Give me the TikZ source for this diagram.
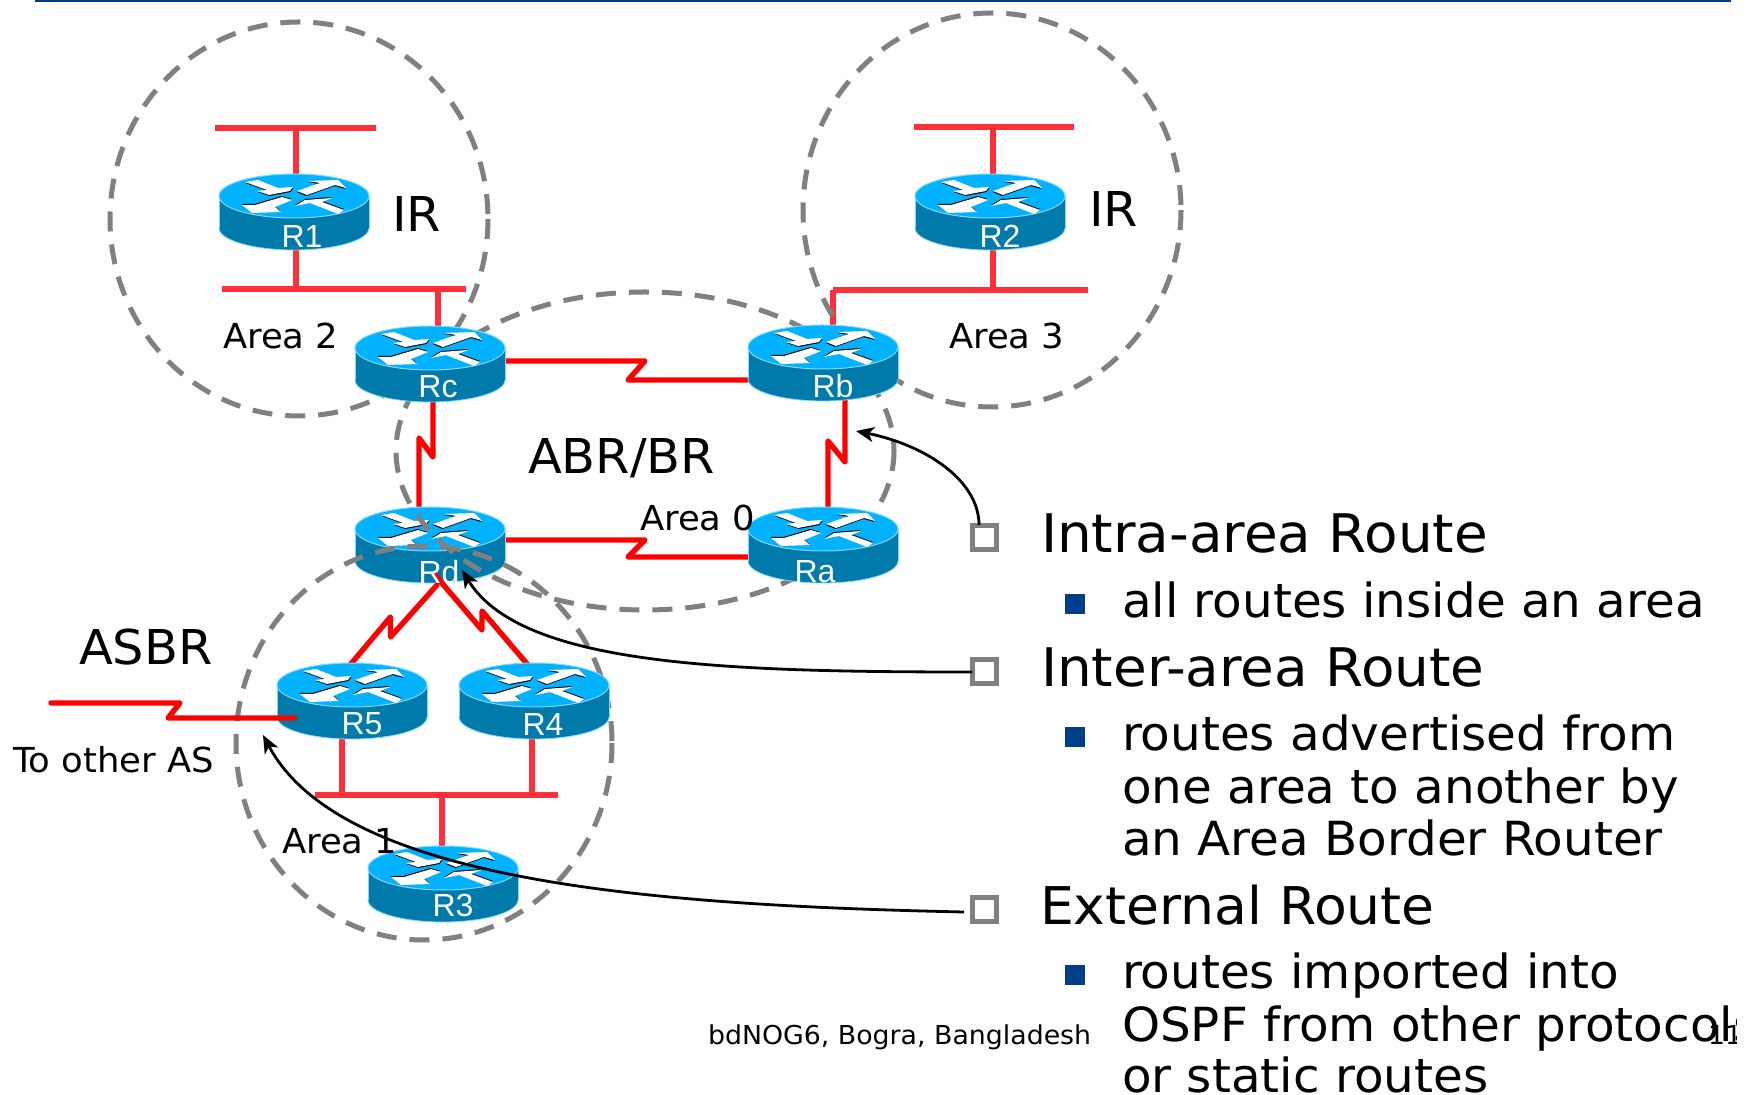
\documentclass[tikz,border=0pt]{standalone}
\usepackage{fontspec}
\setmainfont[FakeStretch=1.03]{DejaVu Sans}
\newfontfamily\rtrfont{Liberation Sans}
\usetikzlibrary{arrows.meta}
\definecolor{routertop}{HTML}{00B2FF}
\definecolor{routerside}{HTML}{0079AB}
\definecolor{routerrim}{HTML}{7FD8FF}
\definecolor{etherred}{HTML}{FF3039}
\definecolor{serialred}{HTML}{FF0000}
\definecolor{areagray}{HTML}{808080}
\definecolor{bulletblue}{HTML}{003F87}
\newcommand{\fs}[1]{\fontsize{#1}{#1}\selectfont}
\newcommand{\arw}[2]{%
  \fill[black,shift={(#1)}] #2 -- cycle;
  \fill[white] #2 -- cycle;
}
\tikzset{
  x=0.5pt,y=-0.5pt,
  area/.style={draw=areagray,line width=2.5pt,dash pattern=on 10pt off 6.5pt},
  ether/.style={draw=etherred,line width=3pt},
  serial/.style={draw=serialred,line width=2.7pt,line join=round,line cap=round},
  callout/.style={draw=black,line width=1.4pt,-{Stealth[length=9pt,width=7.5pt,inset=2.5pt]}},
  hollowsq/.style={draw=areagray,fill=white,line width=2.5pt,minimum size=12pt,inner sep=0pt,outer sep=0pt},
  txt/.style={inner sep=0pt,outer sep=0pt,anchor=base west,text=black},
  rtrlabel/.style={inner sep=0pt,text=white,font=\rtrfont\fs{16}},
  bigtxt/.style={txt,font=\fs{26}},
  bigwide/.style={txt,font=\fs{26.6}},
  subtxt/.style={txt,font=\fs{23.5}},
  lbl/.style={txt,font=\fs{24}},
  smlbl/.style={txt,font=\fs{17.2}},
  tinytxt/.style={txt,font=\fs{13}},
  blt/.style={fill=bulletblue,minimum size=10pt,inner sep=0pt,outer sep=0pt},
  router/.pic={
    \fill[routerside,draw=routerrim,line width=.4pt] (0,54) ellipse[x radius=75,y radius=22];
    \fill[routerside] (-75,22) rectangle (75,54);
    \draw[routerrim,line width=.4pt] (-75,22) -- (-75,54) (75,22) -- (75,54);
    \fill[routertop,draw=routerrim,line width=.5pt] (0,22) ellipse[x radius=75,y radius=22];
    \arw{0.5,1}{(-49,8) -- (-36,6) -- (-16,14) -- (-1,13) -- (-4,17) -- (-25,21) -- (-37,17) -- (-27,16)}
    \arw{-0.5,1}{(3,17) -- (26,9) -- (14,7) -- (44,6) -- (52,14) -- (41,11) -- (13,21)}
    \arw{-0.5,-1}{(-12,23) -- (-2,26) -- (-19,33) -- (-13,38) -- (-42,39) -- (-52,31) -- (-39,31)}
    \arw{0,-1}{(1,32) -- (11,26) -- (38,24) -- (28,28) -- (50,36) -- (44,40) -- (16,29)}
  }
}
\newcommand{\rtr}[3]{% name, center x, top y
  \pic at (#2,#3) {router};
  \coordinate (#1) at (#2,#3);
}
\begin{document}
\begin{tikzpicture}
\useasboundingbox (0,0) rectangle (1750,1095);
\clip (0,0) rectangle (1750,1095);
\fill[white] (0,0) rectangle (1750,1095);
\coordinate (topL) at (35,1); \coordinate (topR) at (1731,1);
\draw[bulletblue,line width=1pt] (topL) -- (topR);

% ethernet segments
\coordinate (a2t1) at (215,128); \coordinate (a2t2) at (376,128); \coordinate (a2ts) at (296,128);
\coordinate (a2b1) at (222,289); \coordinate (a2b2) at (466,289); \coordinate (a2bs) at (296,289); \coordinate (a2bc) at (438,289);
\coordinate (a3t1) at (914,127); \coordinate (a3t2) at (1074,127); \coordinate (a3ts) at (993,127);
\coordinate (a3b1) at (833,290); \coordinate (a3b2) at (1088,290); \coordinate (a3bs) at (993,290);
\coordinate (a1b1) at (315,795); \coordinate (a1b2) at (558,795);
\coordinate (a1s5) at (342,795); \coordinate (a1s4) at (532,795); \coordinate (a1s3) at (441.5,795);
\draw[ether] (a2t1) -- (a2t2);
\draw[ether] (a2ts) -- (296,190);
\draw[ether] (a2b1) -- (a2b2);
\draw[ether] (a2bs) -- (296,240);
\draw[ether] (a2bc) -- (438,340);
\draw[ether] (a3t1) -- (a3t2);
\draw[ether] (a3ts) -- (993,190);
\draw[ether] (a3b1) -- (a3b2);
\draw[ether] (a3bs) -- (993,240);
\draw[ether] (a3b1) -- (833,340);
\draw[ether] (a1b1) -- (a1b2);
\draw[ether] (a1s5) -- (342,730);
\draw[ether] (a1s4) -- (532,730);
\draw[ether] (a1s3) -- (441.5,860);

% area rings behind routers
\draw[area] (299,219) ellipse[x radius=189,y radius=197];
\draw[area] (992,210) ellipse[x radius=189,y radius=197];

% serial links
\draw[serial] (505,361) -- (645,361) -- (628,380) -- (748,380);
\draw[serial] (505,540) -- (645,540) -- (628,557) -- (748,557);
\draw[serial] (433,395) -- (433,457) -- (419,438) -- (419,510);
\draw[serial] (845,395) -- (845,462) -- (828,441) -- (828,510);

% routers
\rtr{rd}{430}{507}
\draw[area] (645,451) ellipse[x radius=249,y radius=159];
\draw[area] (424,743) ellipse[x radius=188,y radius=197];
\rtr{rone}{294}{174}
\rtr{rtwo}{990}{174}
\rtr{rc}{430}{326}
\rtr{rb}{823}{325}
\rtr{ra}{823}{507}
\draw[serial] (437,585) -- (390.5,637) -- (390.5,617) -- (350,665);
\draw[serial] (528,665) -- (482,611) -- (482,630) -- (435,575);
\rtr{rfive}{352}{663}
\rtr{rfour}{534}{663}
\rtr{rthree}{443}{846}
\coordinate (asA) at (51,703); \coordinate (asB) at (180,703); \coordinate (asC) at (168,718); \coordinate (asD) at (294.5,718);
\draw[serial] (asA) -- (asB) -- (asC) -- (asD);

\node[rtrlabel] (lr1) at (302,236) {R1};
\node[rtrlabel] (lr2) at (1000,236) {R2};
\node[rtrlabel] (lrc) at (438,387) {Rc};
\node[rtrlabel] (lrb) at (833,386) {Rb};
\node[rtrlabel] (lra) at (815,572) {Ra};
\node[rtrlabel] (lrd) at (439,572) {Rd};
\node[rtrlabel] (lr5) at (362,724) {R5};
\node[rtrlabel] (lr4) at (543,724) {R4};
\node[rtrlabel] (lr3) at (453,905) {R3};

% labels
\node[lbl] (ir1) at (392,232) {IR};
\node[lbl] (ir2) at (1089,227) {IR};
\node[smlbl] (ar2) at (223,349) {Area 2};
\node[smlbl] (ar3) at (949,349) {Area 3};
\node[lbl] (abr) at (528,474) {ABR/BR};
\node[smlbl] (ar0) at (640,531) {Area 0};
\node[lbl] (asbr) at (79,665) {ASBR};
\node[smlbl] (toas) at (13,772) {To other AS};
\node[smlbl] (ar1) at (282,853) {Area 1};

% right column
\node[hollowsq] (sq1) at (984,538) {};
\node[hollowsq] (sq2) at (984,672) {};
\node[hollowsq] (sq3) at (984,909) {};
\node[blt] (b1) at (1075,604) {};
\node[blt] (b2) at (1075,737) {};
\node[blt] (b3) at (1075,975) {};
\node[bigwide] (t1) at (1041,553) {Intra-area Route};
\node[subtxt] (t1a) at (1122,618) {all routes inside an area};
\node[bigwide] (t2) at (1041,687) {Inter-area Route};
\node[subtxt] (t2a) at (1122,750) {routes advertised from};
\node[subtxt] (t2b) at (1122,803) {one area to another by};
\node[subtxt] (t2c) at (1122,855) {an Area Border Router};
\node[bigtxt] (t3) at (1040,924) {External Route};
\node[subtxt] (t3a) at (1122,988) {routes imported into};
\node[subtxt] (t3c) at (1122,1092) {or static routes};
\node[tinytxt] (foot) at (708,1044) {bdNOG6, Bogra, Bangladesh};
\begin{scope}
  \clip (0,0) rectangle (1736,1095);
  \node[subtxt] (t3b) at (1122,1041) {OSPF from other protocols};
  \node[tinytxt] (pgno) at (1708,1044) {11};
\end{scope}

% callouts
\coordinate (srcA) at (979,525);
\coordinate (srcC) at (964,912);
\coordinate (tipA) at (856,431);
\coordinate (tipB) at (462,570);
\coordinate (tipC) at (263,735);
\draw[callout] (srcA) .. controls (979,480) and (925,445) .. (tipA);
\draw[callout] (sq2.west) .. controls (720,672) and (520,665) .. (tipB);
\draw[callout] (srcC) .. controls (640,905) and (340,880) .. (tipC);
\end{tikzpicture}
\end{document}
